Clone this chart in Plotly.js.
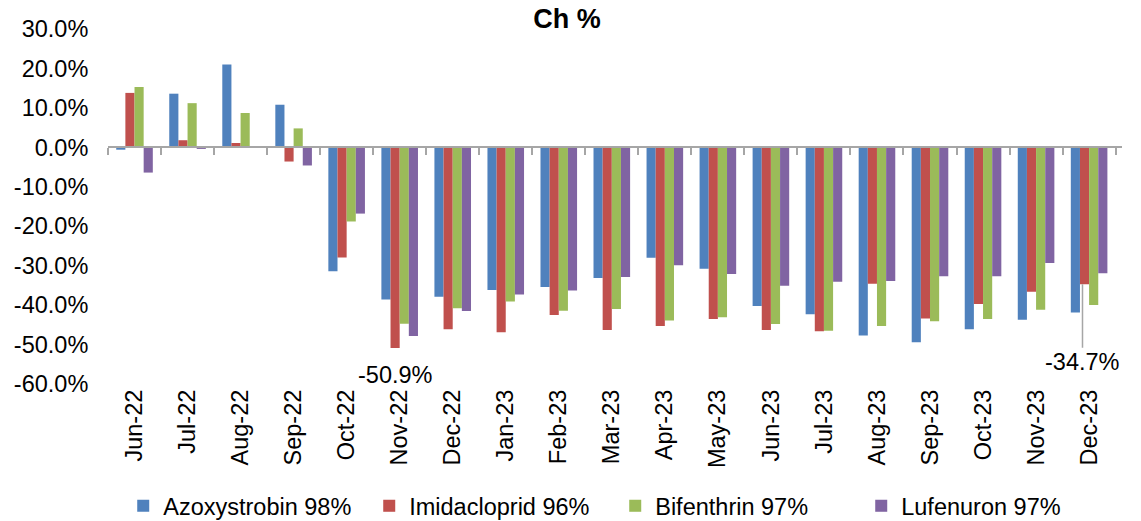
<!DOCTYPE html>
<html>
<head>
<meta charset="utf-8">
<script src="https://cdn.plot.ly/plotly-3.0.1.min.js"></script>
<style>html,body{margin:0;padding:0;background:#fff;}#chart{width:1141px;height:521px;}</style>
</head>
<body>
<div id="chart"></div>
<script>
const months = ["Jun-22","Jul-22","Aug-22","Sep-22","Oct-22","Nov-22","Dec-22","Jan-23","Feb-23","Mar-23","Apr-23","May-23","Jun-23","Jul-23","Aug-23","Sep-23","Oct-23","Nov-23","Dec-23"];
const azoxystrobin = [-0.6, 13.6, 21.0, 10.8, -31.4, -38.6, -37.9, -36.2, -35.4, -33.1, -28.0, -30.8, -40.2, -42.3, -47.7, -49.4, -46.1, -43.7, -41.9];
const imidacloprid = [13.8, 1.8, 1.1, -3.6, -27.9, -50.9, -46.1, -46.9, -42.5, -46.3, -45.3, -43.5, -46.3, -46.6, -34.6, -43.4, -39.7, -36.6, -34.7];
const bifenthrin   = [15.3, 11.2, 8.7, 4.8, -18.8, -44.7, -40.8, -39.1, -41.4, -41.0, -43.9, -43.1, -44.8, -46.5, -45.3, -44.1, -43.5, -41.2, -40.0];
const lufenuron    = [-6.4, -0.4, 0.0, -4.6, -16.8, -47.8, -41.5, -37.3, -36.3, -32.9, -29.9, -32.1, -35.1, -34.1, -33.9, -32.7, -32.7, -29.3, -31.9];
const seriesNames = ["Azoxystrobin 98%", "Imidacloprid 96%", "Bifenthrin 97%", "Lufenuron 97%"];
const colors = ["#4F81BD", "#C0504D", "#9BBB59", "#8064A2"];
const yTicks = [30, 20, 10, 0, -10, -20, -30, -40, -50, -60];
const labelled = [{month: "Nov-22", value: imidacloprid[5]}, {month: "Dec-23", value: imidacloprid[18]}];

const font = "Arial, 'Liberation Sans', sans-serif";
const fs = 23.5;
const allSeries = [azoxystrobin, imidacloprid, bifenthrin, lufenuron];
const traces = allSeries.map((vals, i) => ({
  type: "bar", x: months, y: vals, name: seriesNames[i],
  marker: {color: colors[i], line: {width: 0}},
  hoverinfo: "x+y"
}));
// helper trace for the zero-line category axis (no visible marks)
traces.push({type: "bar", x: months, y: months.map(() => null), xaxis: "x2", showlegend: false, hoverinfo: "skip"});

const bargap = 0.31;
const nSeries = 4;
const barW = (1 - bargap) / nSeries;
const redOffset = -(1 - bargap) / 2 + 1.5 * barW; // category units
const catPx = (1141 - 108 - 19) / months.length;

const layout = {
  width: 1141, height: 521,
  margin: {l: 108, r: 19, t: 28.5, b: 137},
  paper_bgcolor: "#fff", plot_bgcolor: "#fff",
  barmode: "group", bargap: bargap, bargroupgap: 0,
  title: {text: "<b>Ch %</b>", font: {family: font, size: 27, color: "#000"}, xref: "container", x: 0.497, xanchor: "center", yref: "container", y: 1 - 19/521, yanchor: "middle"},
  xaxis: {
    type: "category", showline: false, ticks: "", showgrid: false, zeroline: false,
    tickangle: -90, tickfont: {family: font, size: fs, color: "#000"}
  },
  xaxis2: {
    type: "category", overlaying: "x", matches: "x", anchor: "free", position: 60/90,
    showline: true, linecolor: "#A6A6A6", linewidth: 2,
    ticks: "outside", tickson: "boundaries", ticklen: 7, tickwidth: 2, tickcolor: "#A6A6A6",
    showticklabels: false, showgrid: false, zeroline: false
  },
  yaxis: {
    range: [-60, 30], tickvals: yTicks, ticktext: yTicks.map(v => v.toFixed(1) + "%"),
    showgrid: false, zeroline: false, showline: false,
    ticks: "outside", ticklen: 14, tickcolor: "rgba(0,0,0,0)",
    tickfont: {family: font, size: fs, color: "#000"}
  },
  showlegend: true,
  legend: {
    orientation: "h", xref: "container", yref: "container", x: 0.108, y: 15/521, xanchor: "left", yanchor: "middle",
    font: {family: font, size: fs, color: "#000"}, entrywidth: 201, entrywidthmode: "pixels", itemwidth: 30,
    traceorder: "normal"
  },
  annotations: [
    {x: labelled[0].month, y: labelled[0].value, xref: "x", yref: "y", text: labelled[0].value.toFixed(1) + "%",
     showarrow: false, yanchor: "top", yshift: -12, xshift: redOffset * catPx, font: {family: font, size: fs, color: "#000"}},
    {x: labelled[1].month, y: labelled[1].value, xref: "x", yref: "y", text: labelled[1].value.toFixed(1) + "%",
     showarrow: true, arrowhead: 0, arrowwidth: 1.5, arrowcolor: "#A6A6A6", ax: 0, ay: 78, standoff: 0,
     xshift: redOffset * catPx - 2, font: {family: font, size: fs, color: "#000"}}
  ]
};

Plotly.newPlot("chart", traces, layout, {displayModeBar: false, staticPlot: true});
</script>
</body>
</html>
